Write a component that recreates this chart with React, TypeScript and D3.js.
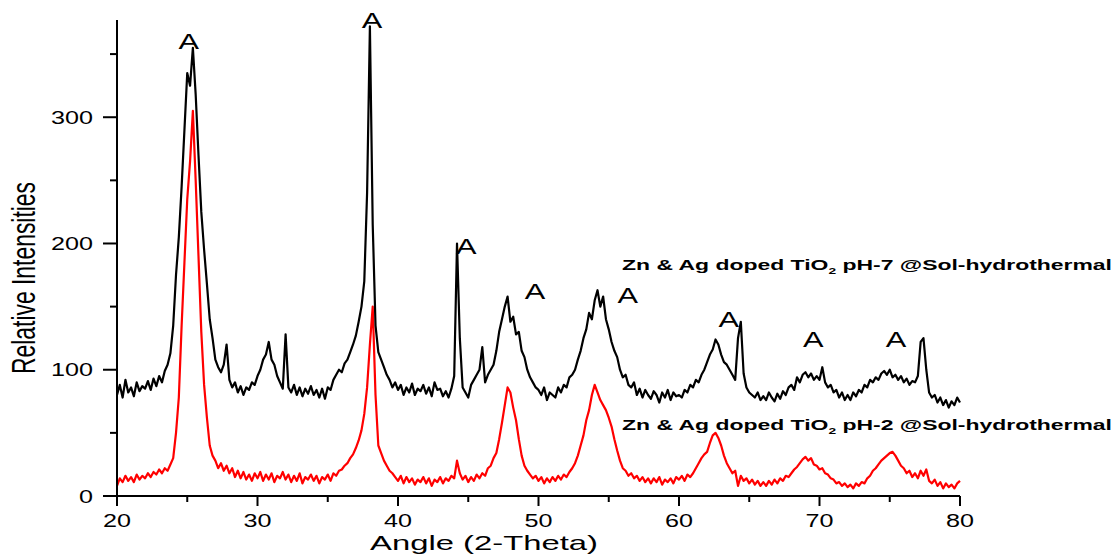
import React from 'react';
import * as d3 from 'd3';

// XRD patterns, sampled every 0.2 degrees from 20 to 80 (2-theta)
const startAngle = 20;
const stepAngle = 0.2;

const ph7Values = [
  80, 88, 78, 92, 82, 86, 79, 90, 83, 87,
  85, 91, 84, 93, 87, 95, 90, 99, 104, 113,
  135, 175, 205, 245, 290, 335, 325, 355, 318, 270,
  225, 195, 168, 140, 125, 108, 102, 98, 104, 120,
  92, 86, 90, 82, 87, 80, 86, 84, 90, 88,
  95, 100, 108, 112, 122, 108, 104, 95, 90, 85,
  128, 86, 82, 88, 80, 86, 79, 85, 81, 87,
  80, 84, 78, 85, 77, 86, 84, 92, 96, 100,
  98, 105, 108, 114, 120, 127, 138, 150, 170, 240,
  372, 215, 135, 114, 108, 102, 96, 92, 86, 90,
  84, 88, 80, 86, 82, 89, 80, 85, 83, 88,
  81, 86, 79, 90, 84, 85, 79, 83, 78, 85,
  95, 200, 125, 86, 82, 78, 88, 92, 96, 100,
  118, 90, 96, 100, 104, 115, 130, 140, 150, 158,
  138, 142, 128, 130, 115, 110, 100, 94, 90, 86,
  84, 80, 86, 76, 82, 80, 78, 86, 82, 88,
  86, 94, 96, 100, 108, 115, 125, 132, 145, 140,
  155, 163, 150, 158, 140, 132, 122, 115, 110, 100,
  94, 96, 88, 86, 90, 80, 85, 78, 84, 80,
  77, 83, 80, 74, 82, 78, 84, 76, 82, 79,
  80, 78, 84, 82, 88, 86, 92, 90, 96, 100,
  106, 112, 116, 124, 120, 112, 106, 104, 100, 96,
  92, 125, 138, 97, 86, 82, 80, 78, 82, 76,
  79, 76, 82, 78, 75, 81, 77, 83, 80, 86,
  88, 84, 94, 90, 96, 98, 94, 97, 92, 95,
  92, 102, 90, 86, 88, 82, 84, 78, 82, 76,
  80, 76, 82, 79, 84, 82, 88, 86, 92, 90,
  94, 92, 97, 99, 96, 100, 94, 96, 92, 95,
  90, 93, 88, 91, 90, 95, 122, 125, 100, 82,
  78, 80, 74, 78, 72, 76, 70, 75, 72, 78,
  74
];

const ph2Values = [
  8, 14, 11, 16, 12, 15, 11, 17, 13, 16,
  14, 18, 15, 19, 17, 21, 18, 22, 20, 25,
  30, 50, 78, 135, 185, 235, 265, 305, 250, 190,
  130, 88, 62, 40, 32, 28, 22, 26, 20, 24,
  18, 22, 15, 20, 14, 19, 13, 17, 12, 18,
  14, 19, 12, 17, 13, 18, 11, 16, 14, 19,
  13, 17, 11, 16, 12, 18, 10, 15, 13, 17,
  12, 16, 10, 15, 13, 17, 12, 18, 16, 20,
  21, 24, 26, 30, 33, 38, 44, 52, 65, 86,
  120, 150, 80, 40, 34, 28, 24, 20, 18, 15,
  12, 16, 10, 15, 11, 14, 9, 13, 11, 15,
  10, 14, 8, 13, 11, 15, 10, 14, 12, 16,
  14, 28, 18, 13, 16, 11, 15, 12, 17, 14,
  18, 16, 22, 24, 30, 34, 45, 58, 72, 86,
  82, 70, 60, 45, 32, 24, 20, 17, 14, 16,
  12, 15, 10, 14, 11, 15, 12, 16, 13, 17,
  15, 19, 22, 26, 32, 40, 48, 60, 68, 80,
  88, 82, 76, 72, 68, 62, 55, 45, 36, 28,
  22, 20, 16, 18, 14, 16, 12, 15, 11, 14,
  10, 14, 11, 15, 9, 13, 11, 14, 10, 15,
  13, 16, 12, 17, 15, 18, 22, 26, 30, 33,
  35, 42, 48, 50, 46, 40, 32, 26, 22, 18,
  20, 8, 16, 12, 14, 10, 13, 9, 12, 8,
  11, 8, 12, 9, 13, 10, 14, 12, 16, 15,
  18, 21, 23, 26, 29, 31, 28, 30, 25, 24,
  21, 22, 18, 17, 14, 13, 10, 11, 8, 10,
  7, 9, 6, 10, 8, 11, 10, 14, 16, 20,
  22, 25, 28, 30, 32, 34, 35, 32, 28, 24,
  22, 18, 20, 15, 18, 14, 20, 16, 21, 12,
  10, 13, 8, 11, 6, 10, 7, 9, 6, 10,
  12
];

// anatase peak markers: angle and intensity where the "A" sits
const peakMarkAngles = [25.1, 38.15, 44.85, 49.75, 56.35, 63.55, 69.55, 75.45];
const peakMarkLevels = [354, 371, 192, 156, 153, 134, 118, 118];

const xTicks = [20, 30, 40, 50, 60, 70, 80];
const xMinorTicks = [25, 35, 45, 55, 65, 75];
const yTicks = [0, 100, 200, 300];
const yMinorTicks = [50, 150, 250, 350];

const seriesNames = ['pH-7', 'pH-2'];

const W = 1116;
const H = 554;
const FONT = '"Liberation Sans", Arial, sans-serif';
const SX = 1.4; // the picture is stretched sideways

export default function App() {
  const x = d3.scaleLinear().domain([20, 80]).range([117, 960]);
  const y = d3.scaleLinear().domain([0, 377]).range([496, 20]);

  const toPoints = (vals: number[]) =>
    vals.map((v, i) => [startAngle + i * stepAngle, v] as [number, number]);

  const line = d3
    .line<[number, number]>()
    .x(d => x(d[0]))
    .y(d => y(d[1]));

  const labelPos = [
    { x: 622, y: 270 },
    { x: 622, y: 430 }
  ];

  return (
    <svg
      width={W}
      height={H}
      style={{ position: 'absolute', left: 0, top: 0, background: '#fff' }}
      fontFamily={FONT}
    >
      <path d={line(toPoints(ph2Values)) || ''} fill="none" stroke="#ff0000" strokeWidth={2.2} strokeLinejoin="round" />
      <path d={line(toPoints(ph7Values)) || ''} fill="none" stroke="#000" strokeWidth={2.2} strokeLinejoin="round" />

      {/* axes */}
      <line x1={x(20)} x2={x(20)} y1={y(377)} y2={y(0)} stroke="#000" strokeWidth={2} />
      <line x1={x(20)} x2={x(80)} y1={y(0)} y2={y(0)} stroke="#000" strokeWidth={2} />

      {xTicks.map(t => (
        <g key={'xt' + t}>
          <line x1={x(t)} x2={x(t)} y1={y(0)} y2={y(0) + 10} stroke="#000" strokeWidth={2} />
          <g transform={`translate(${x(t)},527) scale(${SX},1)`}>
            <text textAnchor="middle" fontSize={18} fill="#000">
              {t}
            </text>
          </g>
        </g>
      ))}
      {xMinorTicks.map(t => (
        <line key={'xm' + t} x1={x(t)} x2={x(t)} y1={y(0)} y2={y(0) + 6} stroke="#000" strokeWidth={2} />
      ))}

      {yTicks.map(t => (
        <g key={'yt' + t}>
          <line x1={x(20) - 14} x2={x(20)} y1={y(t)} y2={y(t)} stroke="#000" strokeWidth={2} />
          <g transform={`translate(93,${y(t) + 6.5}) scale(${SX},1)`}>
            <text textAnchor="end" fontSize={18} fill="#000">
              {t}
            </text>
          </g>
        </g>
      ))}
      {yMinorTicks.map(t => (
        <line key={'ym' + t} x1={x(20) - 7} x2={x(20)} y1={y(t)} y2={y(t)} stroke="#000" strokeWidth={2} />
      ))}

      {/* axis titles */}
      <text x={484} y={550} textAnchor="middle" fontSize={21} textLength={228} lengthAdjust="spacingAndGlyphs">
        Angle (2-Theta)
      </text>
      <g transform={`translate(35,278) scale(1.45,1) rotate(-90)`}>
        <text textAnchor="middle" fontSize={23} textLength={192} lengthAdjust="spacingAndGlyphs">
          Relative Intensities
        </text>
      </g>

      {/* peak markers */}
      {peakMarkAngles.map((a, i) => (
        <g key={'A' + i} transform={`translate(${x(a)},${y(peakMarkLevels[i])}) scale(${SX},1)`}>
          <text textAnchor="middle" fontSize={22} fill="#000">
            A
          </text>
        </g>
      ))}

      {/* series labels */}
      {seriesNames.map((name, i) => (
        <text
          key={name}
          x={labelPos[i].x}
          y={labelPos[i].y}
          fontSize={15}
          fontWeight="bold"
          textLength={490}
          lengthAdjust="spacingAndGlyphs"
        >
          <tspan>Zn &amp; Ag doped TiO</tspan>
          <tspan dy={4} fontSize={9}>2</tspan>
          <tspan dy={-4}>{` ${name} @Sol-hydrothermal`}</tspan>
        </text>
      ))}
    </svg>
  );
}
